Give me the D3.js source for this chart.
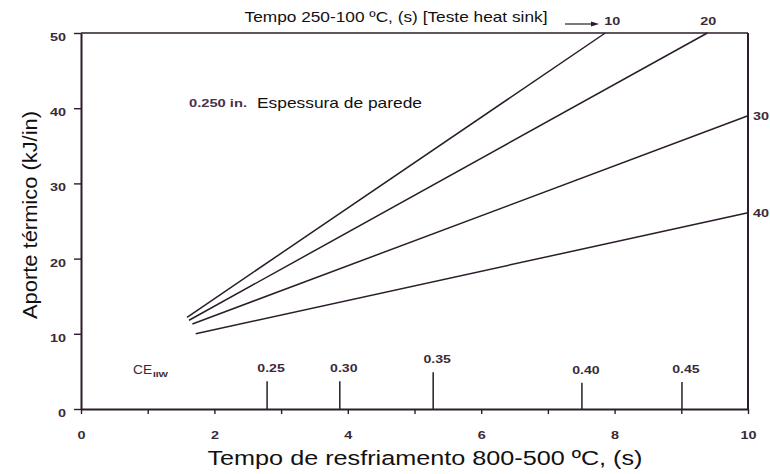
<!DOCTYPE html>
<html><head><meta charset="utf-8">
<script src="https://cdn.jsdelivr.net/npm/d3@7"></script>
<style>body{margin:0;background:#fff}svg{display:block}</style>
</head><body>
<svg id="c" width="770" height="474"></svg>
<script>
// Data
const xTicks = [0,1,2,3,4,5,6,7,8,9,10];
const xTickLabels = [0,2,4,6,8,10];
const yTicks = [0,10,20,30,40,50];
const seriesNames = ["10","20","30","40"];
const seriesX = [[1.59,7.86],[1.62,9.39],[1.67,10],[1.72,10]];
const seriesY = [[12.2,50],[11.8,50],[11.3,39.0],[10.0,26.1]];
const ceLabels = ["0.25","0.30","0.35","0.40","0.45"];
const ceX = [2.79,3.88,5.28,7.51,9.01];
const ceH = [3.7,3.7,4.9,3.5,3.6];

const svg = d3.select("#c");
const col = "#2a1c2a";
const lab = "#3a2a38";
const font = "Arial, 'Liberation Sans', sans-serif";
const x = d3.scaleLinear().domain([0,10]).range([81,748]);
const y = d3.scaleLinear().domain([0,50]).range([409,33]);

function stretch(sel, k){
  sel.each(function(){
    const w = this.getComputedTextLength();
    d3.select(this).attr("textLength", w*k).attr("lengthAdjust","spacingAndGlyphs");
  });
  return sel;
}

// frame
svg.append("line").attr("x1",x(0)).attr("x2",x(10)).attr("y1",y(50)).attr("y2",y(50)).attr("stroke",col).attr("stroke-width",1.6);
svg.append("line").attr("x1",x(10)).attr("x2",x(10)).attr("y1",y(50)).attr("y2",y(0)).attr("stroke",col).attr("stroke-width",2);

const xAxis = svg.append("g").attr("transform",`translate(0,${y(0)})`)
  .call(d3.axisBottom(x).tickValues(xTicks).tickSize(5).tickSizeOuter(0)
    .tickFormat(d=>xTickLabels.includes(d)?d:""));
const yAxis = svg.append("g").attr("transform",`translate(${x(0)},0)`)
  .call(d3.axisLeft(y).tickValues(yTicks).tickSize(7).tickSizeOuter(0));
[xAxis,yAxis].forEach(g=>{
  g.select(".domain").attr("stroke",col).attr("stroke-width",2);
  g.selectAll(".tick line").attr("stroke",col).attr("stroke-width",1.4);
  g.selectAll(".tick text").attr("fill",lab).attr("font-family",font)
   .attr("font-size",11.5).attr("font-weight","bold");
});
xAxis.selectAll(".tick text").attr("dy","1.95em");
yAxis.selectAll(".tick text").attr("dx","-5").attr("dy","0.65em");
stretch(xAxis.selectAll(".tick text"),1.25);
stretch(yAxis.selectAll(".tick text"),1.25);

// series lines
const line = d3.line().x(d=>x(d[0])).y(d=>y(d[1]));
seriesNames.forEach((n,i)=>{
  const pts = seriesX[i].map((v,j)=>[v,seriesY[i][j]]);
  svg.append("path").attr("d",line(pts)).attr("fill","none").attr("stroke",col).attr("stroke-width",1.5);
  const last = pts[pts.length-1];
  let t;
  if (last[1] >= 50) {
    t = svg.append("text").attr("x",x(last[0])+(i===0?7:1)).attr("y",y(50)-8).attr("text-anchor","middle");
  } else {
    t = svg.append("text").attr("x",x(10)+5).attr("y",y(last[1])+4);
  }
  t.attr("font-family",font).attr("font-size",11.5).attr("font-weight","bold").attr("fill",lab).text(n);
  stretch(t,1.25);
});

// arrow near "10"
svg.append("line").attr("x1",565).attr("x2",593).attr("y1",24).attr("y2",24).attr("stroke",col).attr("stroke-width",1.2);
svg.append("path").attr("d","M599,24 L591,21.5 L591,26.5 Z").attr("fill",col);

// CE markers
ceLabels.forEach((l,i)=>{
  svg.append("line").attr("x1",x(ceX[i])).attr("x2",x(ceX[i])).attr("y1",y(0)).attr("y2",y(ceH[i]))
    .attr("stroke",col).attr("stroke-width",1.5);
  const t = svg.append("text").attr("x",x(ceX[i])+4).attr("y",y(ceH[i])-9).attr("text-anchor","middle")
    .attr("font-family",font).attr("font-size",11).attr("font-weight","bold").attr("fill",lab).text(l);
  stretch(t,1.28);
});
const ce1 = svg.append("text").attr("x",133).attr("y",374).attr("font-family",font).attr("fill",lab)
  .attr("font-size",12).text("CE");
stretch(ce1,1.15);
const ce2 = svg.append("text").attr("x",153).attr("y",377).attr("font-family",font).attr("fill",lab)
  .attr("font-size",8).attr("font-weight","bold").text("IIW");
stretch(ce2,1.25);

// texts
const t1 = svg.append("text").attr("x",396).attr("y",22).attr("text-anchor","middle")
  .attr("font-family",font).attr("font-size",14.5).attr("fill","#111")
  .text("Tempo 250-100 ºC, (s) [Teste heat sink]").attr("textLength",303).attr("lengthAdjust","spacingAndGlyphs");
svg.append("text").attr("x",189).attr("y",107).attr("font-family",font).attr("font-size",11)
  .attr("font-weight","bold").attr("fill","#4a3048").text("0.250 in.").attr("textLength",58).attr("lengthAdjust","spacingAndGlyphs");
svg.append("text").attr("x",257).attr("y",108).attr("font-family",font).attr("font-size",14.5)
  .attr("fill","#111").text("Espessura de parede").attr("textLength",165).attr("lengthAdjust","spacingAndGlyphs");
svg.append("text").attr("transform","translate(37,215) rotate(-90)").attr("text-anchor","middle")
  .attr("font-family",font).attr("font-size",20).attr("fill","#111").text("Aporte térmico (kJ/in)")
  .attr("textLength",208).attr("lengthAdjust","spacingAndGlyphs");
svg.append("text").attr("x",425).attr("y",465).attr("text-anchor","middle")
  .attr("font-family",font).attr("font-size",20.5).attr("fill","#111").text("Tempo de resfriamento 800-500 ºC, (s)")
  .attr("textLength",435).attr("lengthAdjust","spacingAndGlyphs");
</script>
</body></html>
